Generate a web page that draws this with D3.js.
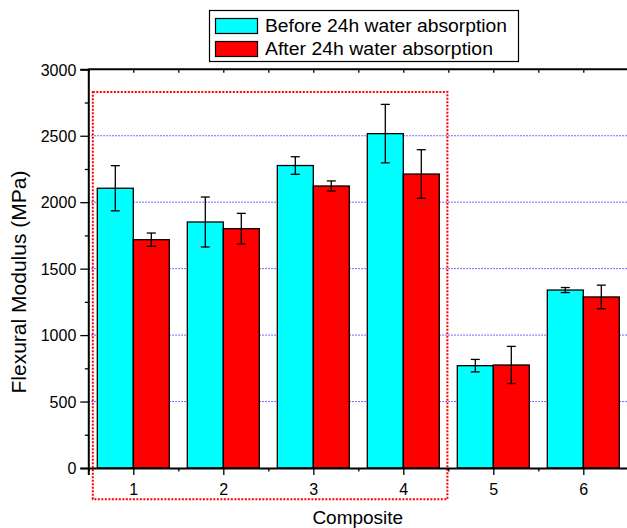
<!DOCTYPE html>
<html>
<head>
<meta charset="utf-8">
<script src="https://cdn.jsdelivr.net/npm/d3@7"></script>
<style>
  html, body { margin: 0; padding: 0; background: #fff; }
  svg { display: block; }
  text { font-family: "Liberation Sans", Arial, Helvetica, sans-serif; fill: #000; }
</style>
</head>
<body>
<svg id="chart" width="627" height="528"></svg>
<script>
// Flexural modulus of six composites, before and after 24 h water absorption
const composites = [1, 2, 3, 4, 5, 6];
const beforeValues = [2105, 1851, 2276, 2516, 770, 1339];
const beforeErrors = [170, 188, 66, 220, 47, 19];
const afterValues = [1718, 1801, 2122, 2212, 775, 1287];
const afterErrors = [50, 115, 38, 183, 140, 89];
const seriesNames = ["Before 24h water absorption", "After 24h water absorption"];
const seriesColors = ["#00ffff", "#ff0000"];
const yTicks = [0, 500, 1000, 1500, 2000, 2500, 3000];
const yMinorTicks = [250, 750, 1250, 1750, 2250, 2750];
const gridValues = [500, 1000, 1500, 2000, 2500];
// highlighted group of composites 1-4 (x from/to in composite units, y in MPa)
const highlightX = [0.55, 4.49];
const highlightY = [-235, 2830];

const svg = d3.select("#chart");
const x = d3.scaleLinear().domain([0.5, 6.5]).range([88.3, 628.3]);
const y = d3.scaleLinear().domain([0, 3000]).range([468, 69.3]);
const barW = 0.4;

// dotted blue grid
svg.append("g").selectAll("line").data(gridValues).join("line")
  .attr("x1", x(0.5)).attr("x2", x(6.5))
  .attr("y1", d => y(d)).attr("y2", d => y(d))
  .attr("stroke", "#3f3fff").attr("stroke-width", 1)
  .attr("stroke-dasharray", "1.5,1.5");

// bars
const series = [
  { values: beforeValues, errors: beforeErrors, offset: -barW, color: seriesColors[0] },
  { values: afterValues, errors: afterErrors, offset: 0, color: seriesColors[1] }
];
series.forEach(s => {
  const g = svg.append("g");
  g.selectAll("rect").data(composites).join("rect")
    .attr("x", (c) => x(c + s.offset))
    .attr("width", x(barW) - x(0))
    .attr("y", (c, i) => y(s.values[i]))
    .attr("height", (c, i) => y(0) - y(s.values[i]))
    .attr("fill", s.color)
    .attr("stroke", "#000").attr("stroke-width", 1.3);
});

// error bars
series.forEach(s => {
  const g = svg.append("g").attr("stroke", "#000").attr("stroke-width", 1.3);
  const cx = c => x(c + s.offset + barW / 2);
  g.selectAll("line.v").data(composites).join("line").attr("class", "v")
    .attr("x1", cx).attr("x2", cx)
    .attr("y1", (c, i) => y(s.values[i] + s.errors[i]))
    .attr("y2", (c, i) => y(s.values[i] - s.errors[i]));
  [1, -1].forEach(sign => {
    const cls = sign > 0 ? "cap-top" : "cap-bottom";
    g.selectAll("line." + cls).data(composites).join("line")
      .attr("class", cls)
      .attr("x1", c => cx(c) - 4.5).attr("x2", c => cx(c) + 4.5)
      .attr("y1", (c, i) => y(s.values[i] + sign * s.errors[i]))
      .attr("y2", (c, i) => y(s.values[i] + sign * s.errors[i]));
  });
});

// red dotted highlight frame
svg.append("rect")
  .attr("x", x(highlightX[0])).attr("y", y(highlightY[1]))
  .attr("width", x(highlightX[1]) - x(highlightX[0]))
  .attr("height", y(highlightY[0]) - y(highlightY[1]))
  .attr("fill", "none").attr("stroke", "#ff0000")
  .attr("stroke-width", 2).attr("stroke-dasharray", "2,1.5");

// axes
const xMajor = composites;
const xMinor = [0.5, 1.5, 2.5, 3.5, 4.5, 5.5, 6.5];

const axisBottomG = svg.append("g").attr("transform", `translate(0,${y(0)})`)
  .call(d3.axisBottom(x).tickValues(xMajor).tickSize(7).tickPadding(9).tickFormat(d3.format("d")));
const axisBottomMinorG = svg.append("g").attr("transform", `translate(0,${y(0)})`)
  .call(d3.axisBottom(x).tickValues(xMinor).tickSize(3.5).tickFormat(""));
const axisTopG = svg.append("g").attr("transform", `translate(0,${y(3000)})`)
  .call(d3.axisBottom(x).tickValues(xMajor.concat(xMinor)).tickSize(3.5).tickFormat(""));
const axisLeftG = svg.append("g").attr("transform", `translate(${x(0.5)},0)`)
  .call(d3.axisLeft(y).tickValues(yTicks).tickSize(8).tickPadding(4).tickFormat(d3.format("d")));
const axisLeftMinorG = svg.append("g").attr("transform", `translate(${x(0.5)},0)`)
  .call(d3.axisLeft(y).tickValues(yMinorTicks).tickSize(3.5).tickFormat(""));
const axisRightG = svg.append("g").attr("transform", `translate(${x(6.5)},0)`)
  .call(d3.axisRight(y).tickValues(yTicks).tickSize(0).tickFormat(""));

[axisBottomG, axisBottomMinorG, axisTopG, axisLeftG, axisLeftMinorG, axisRightG].forEach(a => {
  a.select(".domain").attr("stroke", "#000").attr("stroke-width", 2);
  a.selectAll(".tick line").attr("stroke", "#000").attr("stroke-width", 1.3);
  a.selectAll("text").style("font-size", "16px")
    .style("font-family", '"Liberation Sans", Arial, Helvetica, sans-serif').attr("fill", "#000");
});
[axisBottomMinorG, axisTopG, axisLeftMinorG].forEach(a => a.select(".domain").remove());
svg.append("line").attr("x1", x(0.5)).attr("x2", x(6.5))
  .attr("y1", y(3000)).attr("y2", y(3000))
  .attr("stroke", "#000").attr("stroke-width", 2);
axisLeftG.selectAll("text").attr("dy", "0.36em");
axisBottomG.selectAll("text").attr("dy", "0.71em");

// axis titles
svg.append("text")
  .attr("x", (x(0.5) + x(6.5)) / 2 - 0.5).attr("y", 524)
  .attr("text-anchor", "middle").style("font-size", "19px")
  .text("Composite");
svg.append("text")
  .attr("transform", `translate(25.5,${282}) rotate(-90)`)
  .attr("text-anchor", "middle").style("font-size", "19.5px")
  .attr("textLength", 223).attr("lengthAdjust", "spacingAndGlyphs")
  .text("Flexural Modulus (MPa)");

// legend
const legend = svg.append("g");
legend.append("rect").attr("x", 209.5).attr("y", 10.5).attr("width", 309).attr("height", 51)
  .attr("fill", "#fff").attr("stroke", "#000").attr("stroke-width", 1.2);
const legendWidths = [242, 228];
seriesNames.forEach((name, i) => {
  const row = legend.append("g").attr("transform", `translate(0,${i * 23})`);
  row.append("rect").attr("x", 215.5).attr("y", 18.5).attr("width", 42).attr("height", 15)
    .attr("fill", seriesColors[i]).attr("stroke", "#000").attr("stroke-width", 1.2);
  row.append("text").attr("x", 265).attr("y", 31.5)
    .style("font-size", "17.5px")
    .attr("textLength", legendWidths[i]).attr("lengthAdjust", "spacingAndGlyphs")
    .text(name);
});
</script>
</body>
</html>
